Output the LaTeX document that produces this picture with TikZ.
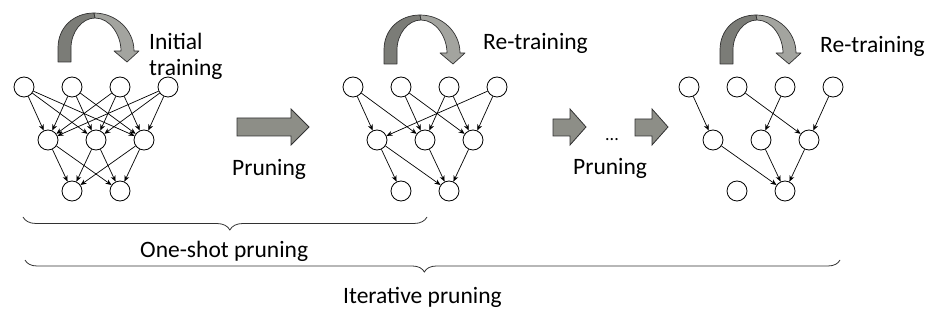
\documentclass[tikz,border=0pt]{standalone}
\usepackage{fontspec}
\setmainfont{Carlito}
\usetikzlibrary{arrows.meta,decorations.pathreplacing}
\definecolor{arrowfill}{RGB}{141,142,135}
\definecolor{ribbondark}{RGB}{123,124,119}
\definecolor{ribbonlight}{RGB}{163,164,159}
\definecolor{edgegray}{RGB}{50,50,50}
\begin{document}
\begin{tikzpicture}[x=1pt,y=-1pt,
  neuron/.style={circle, draw=black, line width=0.8pt, minimum size=20pt, inner sep=0pt},
  conn/.style={line width=0.7pt, -{Stealth[length=6pt,width=5pt]}},
  blk/.style={draw=edgegray, line width=0.8pt, fill=arrowfill, line join=miter},
  lbl/.style={font=\fontsize{23.5}{26}\selectfont, inner sep=0pt, anchor=base west},
  brc/.style={decorate, draw=edgegray, line width=0.8pt},
  curvarrow/.pic={
    \filldraw[fill=ribbondark, draw=edgegray, line width=0.7pt, line join=round]
      (0,0) -- (0,-14) .. controls (0,-35) and (16,-49) .. (36,-49)
      -- (37,-44) .. controls (24,-44) and (13,-30) .. (13,-14) -- (13,0) -- cycle;
    \filldraw[fill=ribbonlight, draw=edgegray, line width=0.7pt, line join=round]
      (36,-49) .. controls (58,-49) and (76,-32) .. (76,-11)
      -- (81,-11) -- (69,0) -- (56,-11) -- (63,-11)
      .. controls (63,-27) and (52,-44) .. (37,-44) -- cycle;
  }]
\useasboundingbox (0,0) rectangle (940,315);

% neurons
\foreach \n/\xo in {a/24,b/353,c/689}{
  \foreach \i/\dx in {1/0,2/48,3/96,4/144}
    \node[neuron] (\n t\i) at ({\xo+\dx},87) {};
  \foreach \i/\dx in {1/24,2/72,3/120}
    \node[neuron] (\n m\i) at ({\xo+\dx},140) {};
  \foreach \i/\dx in {1/48,2/96}
    \node[neuron] (\n b\i) at ({\xo+\dx},191) {};
}

% network 1: fully connected
\foreach \i in {1,...,4}
  \foreach \j in {1,2,3}
    \draw[conn] (at\i) -- (am\j);
\foreach \j in {1,2,3}
  \foreach \k in {1,2}
    \draw[conn] (am\j) -- (ab\k);

% network 2
\foreach \s/\e in {t1/m1,t1/m2,t2/m2,t2/m3,t3/m2,t3/m3,t4/m1,t4/m3,m1/b1,m1/b2,m2/b2,m3/b2}
  \draw[conn] (b\s) -- (b\e);

% network 3
\foreach \s/\e in {t1/m1,t2/m3,t3/m2,t4/m3,m1/b2,m2/b2,m3/b2}
  \draw[conn] (c\s) -- (c\e);

% curved training arrows
\pic at (58,62) {curvarrow};
\pic at (384,64) {curvarrow};
\pic at (720,64) {curvarrow};

% block arrows
\draw[blk] (237,118) -- (291,118) -- (291,109) -- (309,127) -- (291,145) -- (291,136) -- (237,136) -- cycle;
\draw[blk] (553,119) -- (570,119) -- (570,109) -- (586,127) -- (570,145) -- (570,136) -- (553,136) -- cycle;
\draw[blk] (635,119) -- (652,119) -- (652,109) -- (668,127) -- (652,145) -- (652,136) -- (635,136) -- cycle;

% labels
\node[lbl, align=left] (init) at (149,76) {Initial\\training};
\node[lbl] (rt1) at (483,50) {Re-training};
\node[lbl] (rt2) at (820,53) {Re-training};
\node[lbl] (pr1) at (232,176) {Pruning};
\node[lbl] (pr2) at (573,175) {Pruning};
\node[lbl, font=\fontsize{18}{20}\selectfont] (dots) at (605,141) {...};
\node[lbl] (one) at (140,258) {One-shot pruning};
\node[lbl] (iter) at (343,303) {Iterative pruning};

% braces
\coordinate (b1a) at (23,217);
\coordinate (b1b) at (427,217);
\coordinate (b2a) at (25,260);
\coordinate (b2b) at (840,260);
\draw[brc, decoration={brace, mirror, amplitude=13pt, aspect=0.512}] (b1a) -- (b1b);
\draw[brc, decoration={brace, mirror, amplitude=12pt, aspect=0.49}] (b2a) -- (b2b);
\end{tikzpicture}
\end{document}
